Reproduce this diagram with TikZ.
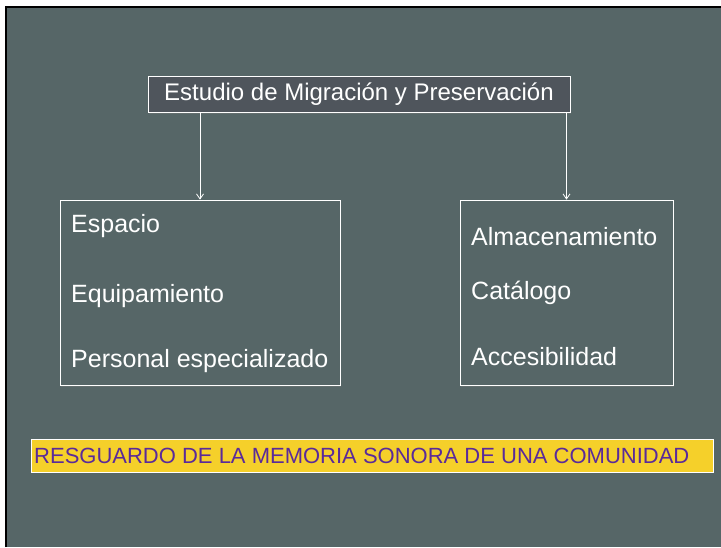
\documentclass[tikz,border=0pt]{standalone}
\usepackage{fontspec}
\setmainfont{Liberation Sans}
\usetikzlibrary{arrows.meta,shadows}
\definecolor{slate}{HTML}{566667}
\definecolor{titlegray}{HTML}{4F555C}
\definecolor{bandyellow}{HTML}{F5D02A}
\definecolor{bandpurple}{HTML}{5A2A9A}
\tikzset{
  panel/.style={draw=white, fill=slate, line width=0.8pt, inner sep=0pt,
    drop shadow={opacity=0.35, shadow xshift=1pt, shadow yshift=-1.5pt}},
  item/.style={anchor=base west, inner sep=0pt, text=white, font=\fontsize{25}{30}\selectfont},
  link/.style={draw=white, line width=0.8pt, -{Straight Barb[length=5pt,width=7pt]}}
}
\begin{document}
\begin{tikzpicture}[x=1pt,y=-1pt]
      \useasboundingbox (0,0) rectangle (721,547);
      \fill[white] (0,0) rectangle (721,547);
      \fill[slate] (6,7) rectangle (721,547);
      \draw[black, line width=1.5pt] (6,547) -- (6,7) -- (721,7);
      % title
      \node[panel, fill=titlegray, minimum width=422pt, minimum height=36pt, text=white,
        font=\fontsize{24}{28}\selectfont] (title) at (359,94.5) {Estudio de Migración y Preservación};
      % two boxes
      \node[panel, minimum width=280pt, minimum height=185pt] (left) at (200,292.5) {};
      \node[panel, minimum width=213pt, minimum height=185pt] (right) at (566.5,292.5) {};
      \draw[link] (title.south -| left.north) -- (left.north);
      \draw[link] (title.south -| right.north) -- (right.north);
      \node[item] (esp) at (71,232) {Espacio};
      \node[item] (equ) at (71,302) {Equipamiento};
      \node[item] (per) at (71,367) {Personal especializado};
      \node[item] (alm) at (471,245) {Almacenamiento};
      \node[item] (cat) at (471,299) {Catálogo};
      \node[item] (acc) at (471,365) {Accesibilidad};
      % band
      \node[draw=white, line width=0.6pt, fill=bandyellow, minimum width=682pt, minimum height=33pt,
        inner sep=0pt] (band) at (372,455.5) {};
      \node[anchor=base west, inner sep=0pt, text=bandpurple, font=\fontsize{22}{26}\selectfont]
        (memoria) at (34,463) {RESGUARDO DE LA MEMORIA SONORA DE UNA COMUNIDAD};
    \end{tikzpicture}
\end{document}
